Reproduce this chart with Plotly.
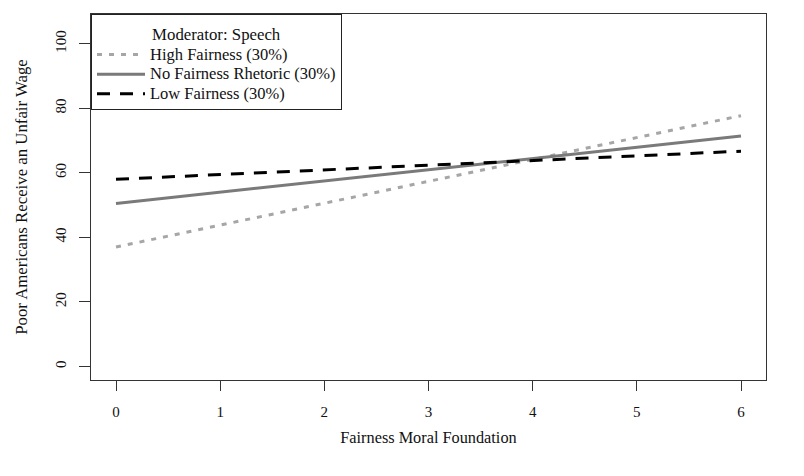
import plotly.graph_objects as go

x_vals = [0, 6]
high_fairness = [37.0, 77.7]
no_fairness = [50.5, 71.4]
low_fairness = [58.0, 66.7]

series_names = ["High Fairness (30%)", "No Fairness Rhetoric (30%)", "Low Fairness (30%)"]
legend_title = "Moderator: Speech"
x_ticks = [0, 1, 2, 3, 4, 5, 6]
y_ticks = [0, 20, 40, 60, 80, 100]

FONT = "Liberation Serif, Times New Roman, serif"
LEG_TXT = '<span style="font-size:16.5px">{}</span>'

fig = go.Figure()
fig.add_trace(go.Scatter(x=x_vals, y=high_fairness, mode="lines", name=LEG_TXT.format(series_names[0]),
                         line=dict(color="#a6a6a6", width=3, dash="5px,7px")))
fig.add_trace(go.Scatter(x=x_vals, y=no_fairness, mode="lines", name=LEG_TXT.format(series_names[1]),
                         line=dict(color="#7a7a7a", width=3)))
fig.add_trace(go.Scatter(x=x_vals, y=low_fairness, mode="lines", name=LEG_TXT.format(series_names[2]),
                         line=dict(color="#000000", width=3, dash="13px,10px")))

fig.update_layout(
    width=804, height=476,
    margin=dict(l=91, r=38, t=14, b=96),
    paper_bgcolor="white", plot_bgcolor="white",
    font=dict(family=FONT, size=15, color="#111111"),
    showlegend=True,
    legend=dict(
        x=0, y=1, xanchor="left", yanchor="top",
        bordercolor="#222222", borderwidth=1, bgcolor="white",
        title=dict(text='<span style="font-size:16.8px">' + legend_title + '</span>',
                   side="top center", font=dict(size=19)),
        font=dict(size=12.8), tracegroupgap=0, itemwidth=48,
    ),
    xaxis=dict(
        range=[-0.24, 6.24], tickvals=x_ticks, ticktext=[str(v) for v in x_ticks],
        showgrid=False, zeroline=False, showline=True, mirror=True, automargin=False,
        linecolor="#333333", linewidth=1.3, ticks="outside", ticklen=10, tickcolor="#333333",
        tickfont=dict(size=15), ticklabelstandoff=8,
        title=dict(text="Fairness Moral Foundation", standoff=12, font=dict(size=16.3)),
    ),
    yaxis=dict(
        range=[-4.2, 109.2], tickvals=y_ticks, ticktext=[str(v) for v in y_ticks],
        showgrid=False, zeroline=False, showline=True, mirror=True, automargin=False,
        linecolor="#333333", linewidth=1.3, ticks="outside", ticklen=11, tickcolor="#333333",
        tickangle=-90, tickfont=dict(size=15), ticklabelstandoff=7,
        title=dict(text="Poor Americans Receive an Unfair Wage", standoff=20, font=dict(size=16.8)),
    ),
)

fig.write_html("out.html", config={"displayModeBar": False},
               post_script="document.body.style.margin='0';")
